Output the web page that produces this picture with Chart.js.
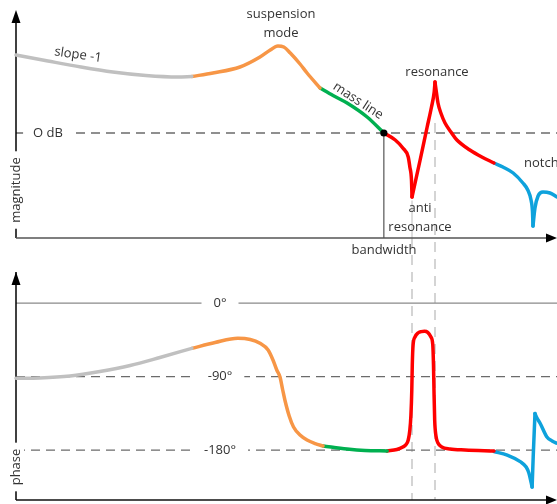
<!DOCTYPE html>
<html><head><meta charset="utf-8">
<script src="https://cdn.jsdelivr.net/npm/chart.js@4"></script>
<style>
html,body{margin:0;padding:0;background:#fff;overflow:hidden}
#wrap{position:relative;width:557px;height:504px}
canvas{position:absolute;left:0;top:0}
</style></head><body>
<div id="wrap"><canvas id="mag" width="557" height="504"></canvas><canvas id="ph" width="557" height="504"></canvas></div>
<script>
// ---- data: x = log-frequency (0..100), magnitude in dB-like units, phase in degrees ----
const magGray   = [[0,31.2],[5.9,28.8],[12,26.4],[17.9,24.4],[24,23.0],[29.9,22.4],[32.5,22.6]];
const magOrange = [[32.5,22.6],[36.4,24.0],[41.4,26.4],[45.1,30.4],[47.0,33.2],[48.4,34.8],[49.5,34.4],[50.7,32.0],[52.5,27.6],[53.8,24.0],[56.2,18.0]];
const magGreen  = [[56.2,18.0],[58.6,15.0],[61.2,12.0],[64.9,6.4],[68.0,0]];
const magRed1   = [[68.0,0],[70.1,-2.8],[71.5,-6.0],[72.5,-9.6],[72.8,-13.6],[73.1,-18.8],[73.2,-25.6]];
const magRed2   = [[73.2,-25.6],[74.7,-10.8],[76.0,2.4],[76.8,10.4],[77.3,16.4],[77.45,20.4]];
const magRed3   = [[77.45,20.4],[77.7,16.4],[78.0,12.0],[78.6,7.6],[79.3,4.0],[80.4,0.4],[81.5,-2.8],[83.9,-6.8],[86.1,-9.6],[88.35,-12.0]];
const magBlue1  = [[88.35,-12.0],[90.0,-13.6],[91.9,-16.0],[93.7,-20.0],[94.6,-22.8],[95.2,-26.8],[95.47,-31.6],[95.56,-37.2]];
const magBlue2  = [[95.56,-37.2],[95.93,-30.0],[96.5,-25.2],[97.4,-23.6],[98.7,-24.0],[100,-25.6]];

const phGray    = [[0,-92.1],[4.4,-91.7],[10.0,-89.3],[15.5,-83.8],[21.1,-76.4],[26.6,-66.6],[32.5,-55.4]];
const phOrange  = [[32.5,-55.4],[36.8,-48.3],[41.0,-43.1],[43.3,-44.6],[45.1,-49.3],[46.6,-57.5],[47.5,-69.7],[48.2,-81.9],[48.8,-90.5],[49.3,-106.4],[49.7,-118.6],[50.5,-138.2],[51.3,-151.7],[52.5,-161.5],[53.8,-167.6],[55.3,-171.9],[56.75,-174.9]];
const phGreen   = [[56.75,-174.9],[61.2,-178.6],[64.5,-180.4],[68.6,-181.0]];
const phRed     = [[68.6,-181.0],[70.4,-179.2],[71.5,-176.1],[72.1,-173.1],[72.5,-167.6],[72.8,-155.4],[73.0,-137.0],[73.16,-106.4],[73.25,-75.8],[73.4,-51.3],[73.75,-41.5],[74.3,-36.6],[74.9,-35.0],[75.5,-34.6],[76.1,-35.8],[76.7,-41.5],[77.04,-51.3],[77.17,-75.8],[77.26,-106.4],[77.39,-143.1],[77.63,-162.7],[78.0,-171.3],[78.7,-176.1],[80.2,-178.6],[83.0,-179.8],[88.35,-181.0]];
const phBlue1   = [[88.35,-181.7],[90.8,-186.0],[93.2,-194.1],[94.3,-200.6],[94.8,-208.0],[95.2,-219.0],[95.4,-225.1]];
const phBlue2   = [[95.4,-225.1],[95.6,-188.4],[95.93,-135.2]];
const phBlue3   = [[95.93,-135.2],[96.3,-140.7],[96.9,-147.4],[98.1,-163.5],[99.1,-168.8],[100,-171.6]];

const magRefLines = [0];              // 0 dB
const magRefLabels = ['O dB'];
const phRefLines  = [0, -90, -180];
const phRefLabels = ['0°', '-90°', '-180°'];
const bandwidthX = 68.0, antiResX = 73.2, resX = 77.45;

const C = {gray:'#c0c0c0', orange:'#f79646', green:'#00b050', red:'#ff0000', blue:'#0ea2dc'};
const FONT = '"Open Sans", "Noto Sans", sans-serif';
const TXT = '#333333';

function seg(d, color){
  return {data:d.map(p=>({x:p[0],y:p[1]})), borderColor:color, borderWidth:3.5, pointRadius:0,
    fill:false, cubicInterpolationMode:'monotone', borderCapStyle:'round', borderJoinStyle:'round', clip:false};
}
function label(ctx, text, x, y, o){
  o = o||{};
  ctx.save();
  ctx.font = (o.size||13)+'px '+FONT;
  ctx.translate(x,y);
  if(o.rot) ctx.rotate(o.rot*Math.PI/180);
  ctx.textAlign = o.align||'center';
  ctx.textBaseline = 'middle';
  if(o.bg){
    const w = ctx.measureText(text).width, p = o.pad||6;
    const x0 = (o.align==='left') ? 0 : -w/2;
    ctx.fillStyle = '#fff';
    ctx.fillRect(x0-p, -8, w+2*p, 16);
  }
  ctx.fillStyle = o.color||TXT;
  ctx.fillText(text,0,0);
  ctx.restore();
}
function line(ctx,x1,y1,x2,y2,color,w,dash){
  ctx.save(); ctx.strokeStyle=color; ctx.lineWidth=w; ctx.setLineDash(dash||[]);
  ctx.beginPath(); ctx.moveTo(x1,y1); ctx.lineTo(x2,y2); ctx.stroke(); ctx.restore();
}
function arrowUp(ctx,x,y){ ctx.save(); ctx.fillStyle='#000'; ctx.beginPath(); ctx.moveTo(x,y); ctx.lineTo(x-4.5,y+13); ctx.lineTo(x+4.5,y+13); ctx.closePath(); ctx.fill(); ctx.restore(); }
function arrowRight(ctx,x,y){ ctx.save(); ctx.fillStyle='#000'; ctx.beginPath(); ctx.moveTo(x,y); ctx.lineTo(x-11,y-4.5); ctx.lineTo(x-11,y+4.5); ctx.closePath(); ctx.fill(); ctx.restore(); }

const baseOpts = (padding, ymin, ymax) => ({
  responsive:false, animation:false, devicePixelRatio:1, events:[],
  layout:{padding},
  plugins:{legend:{display:false}, tooltip:{enabled:false}},
  scales:{x:{type:'linear',min:0,max:100,display:false}, y:{type:'linear',min:ymin,max:ymax,display:false}}
});

const magPlugin = {
  id:'magDeco',
  beforeDatasetsDraw(chart){
    const ctx=chart.ctx, xs=chart.scales.x, ys=chart.scales.y, a=chart.chartArea;
    const y0 = ys.getPixelForValue(magRefLines[0]);
    // 0 dB reference
    line(ctx, a.left, y0, chart.width, y0, '#6b6b6b', 1.3, [9,6]);
    label(ctx, magRefLabels[0], a.left+32, y0, {bg:true, pad:10});
    // resonance / anti-resonance guide lines (run through both panels)
    const xr = xs.getPixelForValue(resX), xa = xs.getPixelForValue(antiResX);
    line(ctx, xr, ys.getPixelForValue(4), xr, 500, '#d4d4d4', 2, [10,7]);
    line(ctx, xa, ys.getPixelForValue(-27), xa, a.bottom, '#c8c8c8', 1.2);
    line(ctx, xa, a.bottom, xa, 500, '#d4d4d4', 2, [10,7]);
    // bandwidth
    const xb = xs.getPixelForValue(bandwidthX);
    line(ctx, xb, y0, xb, a.bottom, '#333', 1);
    // axes
    line(ctx, a.left, a.bottom, a.left, a.top, '#000', 1.5);
    arrowUp(ctx, a.left, a.top-3);
    line(ctx, a.left, a.bottom, a.right-8, a.bottom, '#555', 1.5);
    arrowRight(ctx, a.right, a.bottom);
    label(ctx, 'magnitude', a.left, 190, {rot:-90, bg:true, pad:6});
  },
  afterDatasetsDraw(chart){
    const ctx=chart.ctx, xs=chart.scales.x, ys=chart.scales.y;
    const xb = xs.getPixelForValue(bandwidthX), y0 = ys.getPixelForValue(0);
    ctx.save(); ctx.fillStyle='#000'; ctx.beginPath(); ctx.arc(xb,y0,3.6,0,2*Math.PI); ctx.fill(); ctx.restore();
    label(ctx, 'slope -1', 78, 55, {rot:8});
    label(ctx, 'suspension', 281, 14);
    label(ctx, 'mode', 281, 33);
    label(ctx, 'mass line', 358, 101, {rot:33});
    label(ctx, 'resonance', 437, 72);
    label(ctx, 'anti', 420, 208);
    label(ctx, 'resonance', 420, 227);
    label(ctx, 'bandwidth', 384, 250);
    label(ctx, 'notch', 524, 163, {align:'left'});
  }
};

const phPlugin = {
  id:'phDeco',
  beforeDatasetsDraw(chart){
    const ctx=chart.ctx, ys=chart.scales.y, a=chart.chartArea;
    phRefLines.forEach((v,i)=>{
      const y = ys.getPixelForValue(v);
      if(v===0) line(ctx, a.left, y, chart.width, y, '#8a8a8a', 1.3);
      else line(ctx, a.left, y, chart.width, y, '#6b6b6b', 1.3, [9,6]);
      label(ctx, phRefLabels[i], 220, y, {bg:true, pad:12});
    });
    line(ctx, a.left, a.bottom, a.left, a.top, '#000', 1.5);
    arrowUp(ctx, a.left, a.top);
    line(ctx, a.left, a.bottom, a.right-8, a.bottom, '#111', 1.5);
    arrowRight(ctx, a.right, a.bottom);
    label(ctx, 'phase', a.left, 467, {rot:-90, bg:true, pad:6});
  }
};

new Chart(document.getElementById('mag'), {
  type:'line',
  data:{datasets:[seg(magGray,C.gray),seg(magOrange,C.orange),seg(magGreen,C.green),
    seg(magRed1,C.red),seg(magRed2,C.red),seg(magRed3,C.red),seg(magBlue1,C.blue),seg(magBlue2,C.blue)]},
  options: baseOpts({left:16,right:0,top:13,bottom:266}, -42, 48),
  plugins:[magPlugin]
});
new Chart(document.getElementById('ph'), {
  type:'line',
  data:{datasets:[seg(phGray,C.gray),seg(phOrange,C.orange),seg(phGreen,C.green),
    seg(phRed,C.red),seg(phBlue1,C.blue),seg(phBlue2,C.blue),seg(phBlue3,C.blue)]},
  options: baseOpts({left:16,right:0,top:272,bottom:4}, -241, 38),
  plugins:[phPlugin]
});
</script>
</body></html>
